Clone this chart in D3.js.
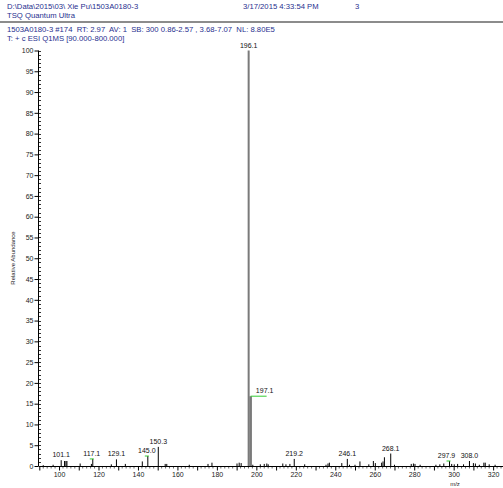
<!DOCTYPE html>
<html><head><meta charset="utf-8">
<script src="https://cdn.jsdelivr.net/npm/d3@7"></script>
<style>body{margin:0;background:#fff}svg{display:block;font-family:"Liberation Sans",Arial,sans-serif}text{white-space:pre}</style>
</head><body><svg id="c" width="503" height="488"></svg>
<script>
const headerLeft1 = "D:\\Data\\2015\\03\\ Xie Pu\\1503A0180-3";
const headerDate = "3/17/2015 4:33:54 PM";
const headerPage = "3";
const headerLeft2 = "TSQ Quantum Ultra";
const scanInfo = "1503A0180-3 #174  RT: 2.97  AV: 1  SB: 300 0.86-2.57 , 3.68-7.07  NL: 8.80E5";
const filterInfo = "T: + c ESI Q1MS [90.000-800.000]";
const xTitle = "m/z";
const yTitle = "Relative Abundance";
const xTicks = [100,120,140,160,180,200,220,240,260,280,300,320];
const yTicks = [0,5,10,15,20,25,30,35,40,45,50,55,60,65,70,75,80,85,90,95,100];
const mz = [92,97,101.1,102.8,103.5,104,110.7,116.4,117.1,126.5,129.1,133.6,142.2,145.0,150.3,153.8,154.6,166,175.5,177.5,190.2,191.3,192.3,196.1,197.1,198.2,202,204,205.3,206,213.4,215,217,219.2,224.5,235.3,236.3,237,243.3,246.1,247.2,250,252.5,257,259.3,260.3,263.5,264.2,264.9,268.1,270,278.5,279.6,280.4,283,291,293,295,297.9,299,300.3,302,305,308.0,310,311,313,315.3,316,318,321];
const intensity = [0.2,0.3,1.4,1.2,1.2,1.2,0.6,0.5,1.7,0.4,1.6,0.5,1.1,2.4,4.6,0.5,0.5,0.3,0.5,0.8,0.6,0.8,0.7,100,16.8,0.3,0.4,0.5,0.6,0.4,0.6,0.4,0.5,1.7,0.4,0.3,0.6,0.8,0.7,1.7,0.3,0.3,1.1,0.4,1.2,0.7,0.8,1.1,2.1,3.0,0.3,0.5,0.6,0.5,0.3,0.3,0.4,0.6,1.2,0.5,0.4,0.5,0.4,1.2,0.7,0.6,0.3,0.8,0.8,0.4,0.3];
const labelMz = [101.1,117.1,129.1,145.0,150.3,196.1,197.1,219.2,246.1,268.1,297.9,308.0];
const labelText = ["101.1","117.1","129.1","145.0","150.3","196.1","197.1","219.2","246.1","268.1","297.9","308.0"];
const highlighted = [196.1,197.1];

const svg = d3.select("#c");
const blue = "#1f2f8f";
const fs = 7;
const hfs = 7.7;
svg.append("text").attr("x",7).attr("y",9).attr("font-size",hfs).attr("fill",blue).text(headerLeft1);
svg.append("text").attr("x",243).attr("y",9).attr("font-size",hfs).attr("fill",blue).text(headerDate);
svg.append("text").attr("x",355).attr("y",9).attr("font-size",hfs).attr("fill",blue).text(headerPage);
svg.append("text").attr("x",7).attr("y",18).attr("font-size",hfs).attr("fill",blue).text(headerLeft2);
svg.append("line").attr("x1",0).attr("x2",503).attr("y1",22).attr("y2",22).attr("stroke","#666").attr("stroke-width",1.5);
svg.append("text").attr("x",7).attr("y",32).attr("font-size",hfs).attr("fill",blue).text(scanInfo);
svg.append("text").attr("x",7).attr("y",41).attr("font-size",hfs).attr("fill",blue).text(filterInfo);

const x = d3.scaleLinear().domain([90,325]).range([39.3,503]);
const y = d3.scaleLinear().domain([0,100]).range([466,50.5]);

// y axis
const ya = svg.append("g").attr("transform","translate(38.5,0)");
ya.append("line").attr("y1",y(0)).attr("y2",y(100)).attr("stroke","#000");
ya.call(g=>{
  const ax = d3.axisLeft(y).tickValues(yTicks).tickSize(4).tickPadding(1);
  g.call(ax);
  g.select(".domain").remove();
  g.selectAll("text").attr("font-size",fs).attr("fill","#222").attr("font-family","Liberation Sans, Arial, sans-serif");
});
ya.append("g").selectAll("line").data(d3.range(0,101,1)).join("line")
  .attr("x1",0).attr("x2",2.5).attr("y1",d=>Math.round(y(d))+0.5).attr("y2",d=>Math.round(y(d))+0.5).attr("stroke","#000").attr("stroke-width",0.8);

// x axis
const xa = svg.append("g").attr("transform","translate(0,466.5)");
xa.append("line").attr("x1",x(90)).attr("x2",503).attr("stroke","#000");
xa.call(g=>{
  const ax = d3.axisBottom(x).tickValues(d3.range(90,326,10)).tickSize(4).tickPadding(2).tickFormat(d=>xTicks.includes(d)?d:"");
  g.call(ax);
  g.select(".domain").remove();
  g.selectAll("text").attr("font-size",fs).attr("fill","#222").attr("font-family","Liberation Sans, Arial, sans-serif");
});
xa.append("g").selectAll("line").data(d3.range(92,326,2).filter(d=>d%10!==0)).join("line")
  .attr("x1",d=>x(d)).attr("x2",d=>x(d)).attr("y1",0).attr("y2",2).attr("stroke","#000").attr("stroke-width",0.6);

svg.append("text").attr("x",455).attr("y",486).attr("font-size",6).attr("text-anchor","middle").attr("fill","#222").text(xTitle);
svg.append("text").attr("transform","translate(15,258) rotate(-90)").attr("font-size",6).attr("text-anchor","middle").attr("fill","#222").text(yTitle);

// peaks
const peaks = mz.map((m,i)=>({m, v:intensity[i], hi:highlighted.includes(m)}));
svg.append("g").selectAll("line").data(peaks).join("line")
  .attr("x1",d=>x(d.m)).attr("x2",d=>x(d.m)).attr("y1",y(0)).attr("y2",d=>y(d.v))
  .attr("stroke",d=>d.hi?"#7a7a7a":"#000").attr("stroke-width",d=>d.m===196.1?2:(d.hi?2.6:1));

// labels
const labs = labelMz.map((m,i)=>({m,t:labelText[i],v:intensity[mz.indexOf(m)]}));
const lg = svg.append("g");
labs.forEach(d=>{
  const px = x(d.m), py = y(d.v);
  let lx = px;
  if (d.t==="197.1") {
    lx = px + 14;
    lg.append("line").attr("x1",px).attr("x2",px+16).attr("y1",py).attr("y2",py).attr("stroke","#3c3").attr("stroke-width",1);
  } else if (d.t==="145.0" || d.t==="297.9" || d.t==="117.1") {
    lx = d.t==="297.9" ? px - 3 : px - 1;
    lg.append("line").attr("x1",px-3).attr("x2",px+1).attr("y1",py).attr("y2",py).attr("stroke","#3c3").attr("stroke-width",1);
  }
  lg.append("text").attr("x",lx).attr("y",py-3).attr("font-size",fs).attr("text-anchor","middle").attr("fill","#111").text(d.t);
});
</script></body></html>
